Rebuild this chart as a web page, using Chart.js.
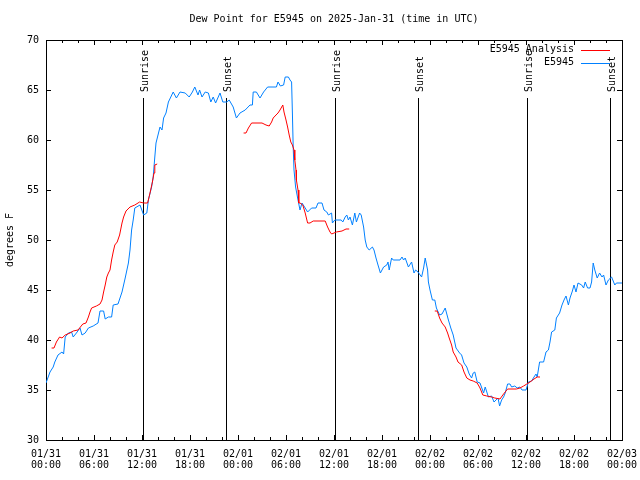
<!DOCTYPE html>
<html lang="en">
<head>
<meta charset="UTF-8">
<script src="https://cdn.jsdelivr.net/npm/chart.js"></script>
<title>Dew Point for E5945</title>
<style>
  html, body { margin: 0; padding: 0; background: #fff; }
  #wrap { width: 640px; height: 480px; }
</style>
</head>
<body>
<div id="wrap"><canvas id="grafico" width="640" height="480"></canvas></div>
<script>
// hours since 2025-01-31 00:00 UTC
const obsHours = [0, 0.5, 0.9, 1.1, 1.5, 2.0, 2.2, 2.4, 2.8, 3.2, 3.4, 3.8, 4.25, 4.5, 4.9, 5.3, 5.9, 6.5, 6.75, 7.2,
  7.4, 7.8, 8.2, 8.4, 9.0, 9.5, 9.9, 10.3, 10.5, 10.7, 10.9, 11.1, 11.75, 12.2, 12.6, 12.8, 13.2, 13.4, 13.6, 13.75,
  14.0, 14.25, 14.5, 14.7, 15.0, 15.3, 15.6, 15.9, 16.3, 16.75, 17.4, 17.9, 18.3, 18.6, 19.0, 19.2, 19.5, 19.9, 20.3, 20.6,
  20.9, 21.2, 21.75, 22.1, 22.6, 22.9, 23.4, 23.8, 24.25, 24.9, 25.5, 25.8, 25.9, 26.3, 26.75, 27.2, 27.7, 28.8, 29.0, 29.3,
  29.7, 29.9, 30.3, 30.5, 30.7, 30.8, 30.9, 31.0, 31.2, 31.5, 31.75, 32.0, 32.4, 32.7, 33.2, 33.75, 34.0, 34.5, 34.75, 35.1,
  35.3, 35.7, 35.8, 36.1, 36.9, 37.1, 37.4, 37.6, 37.8, 38.0, 38.3, 38.6, 38.8, 39.2, 39.4, 39.7, 39.9, 40.1, 40.4, 40.8,
  41.0, 41.25, 41.5, 41.8, 42.2, 42.6, 42.75, 42.9, 43.2, 43.4, 44.25, 44.5, 44.7, 44.9, 45.3, 45.7, 46.0, 46.2, 46.5, 46.95,
  47.2, 47.4, 47.7, 47.8, 48.0, 48.3, 48.6, 48.8, 49.2, 49.5, 49.9, 50.3, 50.6, 50.9, 51.25, 51.7, 51.95, 52.25, 52.6, 52.9,
  53.2, 53.4, 53.6, 53.9, 54.25, 54.7, 54.9, 55.3, 55.7, 56.0, 56.25, 56.5, 56.7, 56.95, 57.2, 57.4, 57.7, 58.0, 58.2, 58.6,
  58.9, 59.25, 59.5, 60.0, 60.3, 60.7, 61.0, 61.25, 61.4, 61.7, 62.2, 62.5, 62.8, 63.0, 63.2, 63.6, 63.8, 64.2, 64.5, 64.75,
  65.0, 65.3, 65.5, 65.8, 66.0, 66.25, 66.5, 66.96, 67.2, 67.4, 67.7, 68.0, 68.2, 68.4, 68.6, 68.9, 69.2, 69.5, 69.7, 70.0,
  70.3, 70.7, 71.1, 71.3, 72.0];
const obsDew = [35.7, 36.8, 37.3, 37.8, 38.5, 38.8, 38.6, 40.3, 40.7, 40.8, 40.3, 40.7, 41.2, 40.5, 40.7, 41.2, 41.4, 41.7, 42.9, 42.9,
  42.1, 42.3, 42.3, 43.5, 43.6, 44.8, 46.2, 47.7, 49.0, 51.0, 52.0, 53.2, 53.5, 52.5, 52.7, 54.0, 55.3, 56.3, 58.3, 59.7,
  60.5, 61.3, 61.0, 62.2, 62.7, 63.8, 64.3, 64.8, 64.2, 64.8, 64.7, 64.3, 64.8, 65.3, 64.5, 65.0, 64.3, 64.8, 64.7, 63.8,
  64.3, 63.7, 64.7, 63.8, 63.8, 64.0, 63.3, 62.2, 62.7, 63.0, 63.5, 63.5, 64.8, 64.8, 64.2, 64.8, 65.3, 65.3, 65.8, 65.4,
  65.5, 66.3, 66.3, 66.0, 65.8, 62.7, 59.3, 57.0, 55.3, 54.0, 53.0, 53.7, 53.2, 52.8, 53.2, 53.2, 53.7, 53.7, 53.0, 52.8,
  52.5, 52.7, 51.7, 52.0, 52.0, 51.8, 52.3, 52.5, 52.0, 52.3, 51.5, 52.7, 51.8, 52.7, 52.5, 51.3, 50.0, 49.3, 49.0, 49.3,
  49.0, 48.2, 47.5, 46.7, 47.3, 47.5, 47.8, 47.0, 48.2, 48.0, 48.0, 48.3, 48.0, 48.2, 47.3, 47.8, 46.7, 47.0, 46.8, 46.3,
  47.2, 48.2, 47.0, 45.8, 45.0, 44.0, 44.0, 43.2, 42.5, 42.6, 43.2, 42.0, 41.2, 40.5, 39.2, 38.7, 38.5, 37.7, 37.3, 36.6,
  36.2, 36.7, 36.8, 35.8, 35.7, 34.7, 35.3, 34.3, 34.4, 33.8, 34.0, 34.2, 33.4, 34.0, 34.3, 34.7, 35.6, 35.6, 35.3, 35.4,
  35.2, 35.3, 35.0, 35.0, 35.8, 35.9, 36.3, 36.6, 36.3, 37.8, 37.8, 38.8, 39.0, 39.8, 40.8, 41.0, 42.2, 42.7, 43.5, 44.0,
  44.4, 43.5, 44.2, 44.9, 45.5, 44.8, 45.7, 45.5, 45.2, 45.8, 45.2, 45.2, 45.8, 47.7, 47.0, 46.2, 46.7, 46.3, 46.5, 45.5,
  46.0, 46.3, 45.5, 45.7, 45.7];

// analysis series, null = gap
const anaHours = [0.7, 1.0, 1.3, 1.7, 2.0, 2.4, 3.0, 3.4, 4.0, 4.3, 4.6, 5.0, 5.3, 5.5, 5.7, 6.3, 6.75, 7.0, 7.2, 7.4,
  7.6, 7.8, 8.0, 8.2, 8.4, 8.6, 8.9, 9.2, 9.5, 9.7, 10.0, 10.5, 11.1, 11.7, 12.2, 12.7, 13.0, 13.3, 13.5, 13.6,
  13.9, 19.0,
  24.7, 25.0, 25.3, 25.7, 27.0, 27.5, 27.9, 28.2, 28.4, 28.75, 29.0, 29.25, 29.6, 29.75, 30.0, 30.2, 30.4, 30.6, 30.8, 31.0,
  31.1, 31.25, 31.3, 31.5, 31.6, 31.75, 32.1, 32.4, 32.7, 33.0, 33.4, 34.9, 35.2, 35.5, 35.7, 36.0, 36.3, 37.0, 37.5, 37.9,
  43.0,
  48.6, 48.9, 49.2, 49.5, 49.9, 50.2, 50.4, 50.7, 50.9, 51.25, 51.5, 51.96, 52.25, 52.6, 53.0, 53.4, 53.9, 54.25, 54.6, 55.1,
  55.7, 56.1, 56.75, 57.1, 57.4, 57.7, 58.8, 59.25, 59.7, 60.1, 60.5, 61.0, 61.4, 61.75];
const anaDew = [39.2, 39.2, 39.8, 40.3, 40.2, 40.5, 40.7, 40.9, 41.0, 41.3, 41.6, 41.7, 42.3, 42.8, 43.2, 43.4, 43.6, 44.0, 44.8, 45.5,
  46.3, 46.7, 47.0, 48.0, 48.8, 49.5, 49.8, 50.5, 51.7, 52.3, 52.9, 53.3, 53.5, 53.8, 53.7, 53.7, 54.7, 55.8, 56.7, 57.5,
  57.6, null,
  60.7, 60.7, 61.2, 61.7, 61.7, 61.5, 61.4, 61.8, 62.2, 62.5, 62.7, 63.0, 63.5, 62.8, 62.0, 61.3, 60.5, 59.8, 59.5, 59.0,
  58.0, 57.0, 56.0, 55.0, 53.7, 53.7, 53.5, 52.7, 51.7, 51.7, 51.9, 51.9, 51.3, 50.8, 50.6, 50.7, 50.8, 50.9, 51.1, 51.1,
  null,
  42.9, 42.9, 42.2, 41.7, 41.3, 40.7, 40.2, 39.5, 38.8, 38.3, 37.8, 37.5, 36.8, 36.2, 36.0, 35.9, 35.7, 35.2, 34.5, 34.4,
  34.3, 34.2, 34.1, 34.5, 34.8, 35.1, 35.1, 35.2, 35.4, 35.6, 35.8, 36.1, 36.3, 36.3];

const sunHours = [12.17, 22.53, 36.17, 46.53, 60.17, 70.54];
const sunLabels = ['Sunrise', 'Sunset', 'Sunrise', 'Sunset', 'Sunrise', 'Sunset'];

const tickDays = ['01/31', '01/31', '01/31', '01/31', '02/01', '02/01', '02/01', '02/01', '02/02', '02/02', '02/02', '02/02', '02/03'];
const tickTimes = ['00:00', '06:00', '12:00', '18:00', '00:00', '06:00', '12:00', '18:00', '00:00', '06:00', '12:00', '18:00', '00:00'];

const FUENTE = '"DejaVu Sans Mono", "Liberation Mono", monospace';

const decoracion = {
  id: 'decoracion',
  beforeDatasetsDraw(chart) {
    const { ctx, chartArea: a, scales } = chart;
    ctx.save();
    ctx.strokeStyle = '#000';
    ctx.lineWidth = 1;
    ctx.beginPath();
    // ticks inward on all four sides
    for (let h = 0; h <= 72; h += 2) {
      const x = Math.round(scales.x.getPixelForValue(h)) + 0.5;
      const len = h % 6 === 0 ? 5 : 3;
      ctx.moveTo(x, a.bottom); ctx.lineTo(x, a.bottom - len);
      ctx.moveTo(x, a.top); ctx.lineTo(x, a.top + len);
    }
    for (let v = 30; v <= 70; v += 5) {
      const y = Math.round(scales.y.getPixelForValue(v)) + 0.5;
      ctx.moveTo(a.left, y); ctx.lineTo(a.left + 5, y);
      ctx.moveTo(a.right, y); ctx.lineTo(a.right - 5, y);
    }
    // sunrise / sunset lines
    sunHours.forEach(h => {
      const x = Math.round(scales.x.getPixelForValue(h)) + 0.5;
      ctx.moveTo(x, 98); ctx.lineTo(x, a.bottom);
    });
    ctx.stroke();
    ctx.strokeRect(a.left + 0.5, a.top + 0.5, a.right - a.left, a.bottom - a.top);

    ctx.fillStyle = '#000';
    ctx.font = '10px ' + FUENTE;
    sunHours.forEach((h, i) => {
      const x = Math.round(scales.x.getPixelForValue(h)) + 2;
      ctx.save();
      ctx.translate(x, 92);
      ctx.rotate(-Math.PI / 2);
      ctx.textAlign = 'left';
      ctx.textBaseline = 'middle';
      ctx.fillText(sunLabels[i], 0, 0);
      ctx.restore();
    });
    ctx.restore();
  },
  afterDraw(chart) {
    const { ctx, chartArea: a } = chart;
    ctx.save();
    ctx.fillStyle = '#000';
    ctx.font = '10px ' + FUENTE;
    ctx.textBaseline = 'middle';
    ctx.textAlign = 'center';
    ctx.fillText('Dew Point for E5945 on 2025-Jan-31 (time in UTC)', (a.left + a.right) / 2, 19);
    // legend
    ctx.textAlign = 'right';
    chart.data.datasets.forEach((ds, i) => {
      const y = 49.5 + i * 13;
      ctx.fillStyle = '#000';
      ctx.fillText(ds.label, 574, y);
      ctx.strokeStyle = ds.borderColor;
      ctx.lineWidth = 1;
      ctx.beginPath();
      ctx.moveTo(581, Math.round(y) + 0.5);
      ctx.lineTo(610, Math.round(y) + 0.5);
      ctx.stroke();
    });
    ctx.restore();
  }
};

new Chart(document.getElementById('grafico'), {
  type: 'scatter',
  data: {
    datasets: [
      {
        label: 'E5945 Analysis',
        data: anaHours.map((h, i) => ({ x: h, y: anaDew[i] })),
        showLine: true,
        spanGaps: false,
        borderColor: '#ff0000',
        borderWidth: 1,
        pointRadius: 0,
        tension: 0
      },
      {
        label: 'E5945',
        data: obsHours.map((h, i) => ({ x: h, y: obsDew[i] })),
        showLine: true,
        borderColor: '#0080ff',
        borderWidth: 1,
        pointRadius: 0,
        tension: 0
      }
    ]
  },
  options: {
    responsive: false,
    animation: false,
    layout: { padding: { top: 40, right: 18, left: 0, bottom: 0 } },
    plugins: {
      legend: { display: false },
      title: { display: false },
      tooltip: { enabled: false }
    },
    scales: {
      x: {
        type: 'linear',
        min: 0,
        max: 72,
        grid: { display: false, drawTicks: false },
        border: { display: false },
        afterFit: s => { s.height = 40; s.paddingLeft = 0; s.paddingRight = 0; },
        afterBuildTicks: s => { s.ticks = tickDays.map((d, i) => ({ value: i * 6 })); },
        ticks: {
          autoSkip: false,
          maxRotation: 0,
          padding: 9,
          color: '#000',
          font: { family: FUENTE, size: 10, lineHeight: 1.1 },
          callback: v => [tickDays[v / 6], tickTimes[v / 6]]
        }
      },
      y: {
        min: 30,
        max: 70,
        grid: { display: false, drawTicks: false },
        border: { display: false },
        afterFit: s => { s.width = 46; s.paddingTop = 0; s.paddingBottom = 0; },
        ticks: {
          stepSize: 5,
          padding: 7,
          color: '#000',
          font: { family: FUENTE, size: 10 }
        },
        title: {
          display: true,
          text: 'degrees F',
          color: '#000',
          padding: { top: 4, bottom: 0 },
          font: { family: FUENTE, size: 10 }
        }
      }
    }
  },
  plugins: [decoracion]
});
</script>
</body>
</html>
